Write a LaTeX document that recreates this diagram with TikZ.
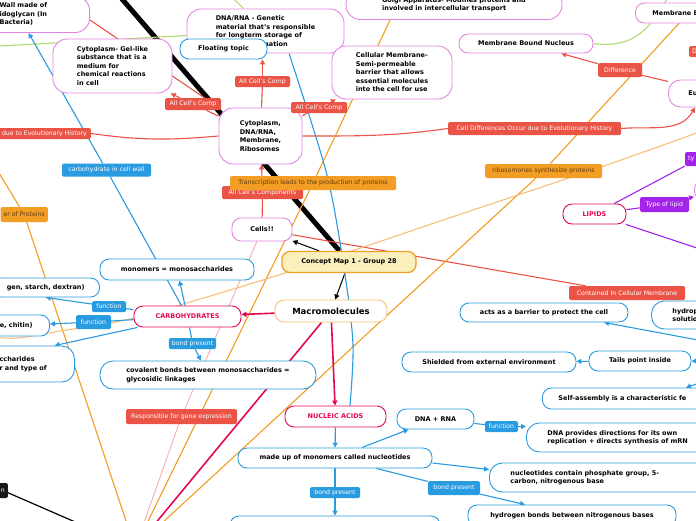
\documentclass[tikz,border=0pt]{standalone}
\usepackage{fontspec}
\setmainfont{DejaVu Sans}
\usepackage{tikz}
\usetikzlibrary{arrows.meta, positioning, backgrounds}
\definecolor{mmpink}{RGB}{226,132,226}
\definecolor{mmblue}{RGB}{40,155,225}
\definecolor{mmred}{RGB}{234,84,70}
\definecolor{mmorange}{RGB}{242,157,36}
\definecolor{mmlorange}{RGB}{251,190,120}
\definecolor{mmcrimson}{RGB}{226,8,84}
\definecolor{mmpurple}{RGB}{163,36,232}
\definecolor{mmgreen}{RGB}{175,222,110}
\definecolor{mmyellow}{RGB}{250,240,190}
\definecolor{mmlpink}{RGB}{246,176,176}
\definecolor{mmbrown}{RGB}{95,60,15}

\begin{document}
\begin{tikzpicture}[x=1pt, y=-1pt,
    topic/.style={draw, fill=white, line width=0.9pt, rounded corners=9pt, inner sep=0pt,
        align=center, font=\bfseries\fontsize{6.5}{8.5}\selectfont},
    pinktopic/.style={topic, draw=mmpink},
    bluetopic/.style={topic, draw=mmblue},
    maintopic/.style={topic, draw=mmcrimson, text=mmcrimson},
    multi/.style={align=left, rounded corners=14pt},
    lbl/.style={rounded corners=1.5pt, inner xsep=3pt, inner ysep=0pt, minimum height=12pt,
        text=white, font=\fontsize{6.2}{7}\selectfont},
    redlbl/.style={lbl, fill=mmred},
    bluelbl/.style={lbl, fill=mmblue},
    orangelbl/.style={lbl, fill=mmorange, text=mmbrown},
    purplelbl/.style={lbl, fill=mmpurple},
    blacklbl/.style={lbl, fill=black!90},
    arr/.style={-{Triangle[length=5pt, width=5pt]}},
    redln/.style={draw=mmred, line width=1.1pt},
    blueln/.style={draw=mmblue, line width=1.1pt},
    orangeln/.style={draw=mmorange, line width=1.1pt},
    lorangeln/.style={draw=mmlorange, line width=1.1pt},
    crimsonln/.style={draw=mmcrimson, line width=1.6pt},
    purpleln/.style={draw=mmpurple, line width=1.1pt},
    greenln/.style={draw=mmgreen, line width=1.1pt},
    lpinkln/.style={draw=mmlpink, line width=0.9pt}]
    \useasboundingbox (0,0) rectangle (696,520);

    % cell components
    \node[pinktopic, multi, anchor=north east, text width=70pt, inner xsep=20pt,
        minimum height=36pt] (wall) at (90,-4) {Wall made of\\idoglycan (In\\Bacteria)};
    \node[pinktopic, multi, minimum width=119pt, minimum height=54pt] (gel) at (112.5,66)
        {Cytoplasm- Gel-like\\substance that is a\\medium for\\chemical reactions\\in cell};
    \node[pinktopic, multi, minimum width=157pt, minimum height=44pt] (dnarna) at (265.5,31)
        {DNA/RNA - Genetic\\material that's responsible\\for longterm storage of\\\hspace*{29pt}information};
    \node[bluetopic, minimum width=87pt, minimum height=20pt] (ftopic) at (223.5,49) {Floating topic};
    \node[pinktopic, multi, minimum width=216pt, minimum height=30pt] (golgi) at (454,4.5)
        {Golgi Apparatus- Modifies proteins and\\involved in intercellular transport};
    \node[pinktopic, multi, minimum width=120pt, minimum height=53pt] (cellmem) at (392,72.5)
        {Cellular Membrane-\\Semi-permeable\\barrier that allows\\essential molecules\\into the cell for use};
    \node[pinktopic, multi, minimum width=83pt, minimum height=56pt] (cytodna) at (260.5,136)
        {Cytoplasm,\\DNA/RNA,\\Membrane,\\Ribosomes};
    \node[pinktopic, minimum width=134pt, minimum height=19pt] (mbn) at (526,43.5) {Membrane Bound Nucleus};
    \node[pinktopic, anchor=west, text width=80pt, align=left, inner xsep=17pt, minimum height=20pt] (memb) at (635,13) {Membrane B};
    \node[pinktopic, multi, anchor=west, text width=60pt, inner xsep=20pt, minimum height=27pt,
        rounded corners=12pt] (eu) at (668,93.5) {Eu};

    % labels round the cell
    \node[redlbl, anchor=west, text width=16pt, align=left, minimum height=11pt] (dlbl) at (689,51.5) {D};
    \node[redlbl, minimum width=44pt, minimum height=14pt] (difflbl) at (620,70) {Difference};
    \node[redlbl, minimum width=173pt, minimum height=13pt] (celldiff) at (534.5,128.5)
        {Cell Differences Occur due to Evolutionary History};
    \node[redlbl, anchor=east, minimum height=11pt, inner xsep=4pt] (evoleft) at (91,133.5) {due to Evolutionary History};
    \node[redlbl, minimum width=56pt, minimum height=12pt] (cmpa) at (193,104) {All Cell's Comp};
    \node[redlbl, minimum width=55pt, minimum height=11pt] (cmpb) at (262.5,81.5) {All Cell's Comp};
    \node[redlbl, minimum width=56pt, minimum height=11pt] (cmpc) at (319,107.5) {All Cell's Comp};
    \node[redlbl, minimum width=81pt, minimum height=13pt] (cellcomp) at (262.5,192.5) {All Cell's Components};
    \node[orangelbl, minimum width=166pt, minimum height=14pt] (translbl) at (313,183)
        {Transcription leads to the production of proteins};
    \node[bluelbl, minimum width=89pt, minimum height=13pt] (carbolbl) at (106.5,170) {carbohydrate in cell wall};
    \node[orangelbl, anchor=east, minimum height=15pt] (protlbl) at (48,214.5) {er of Proteins};
    \node[orangelbl, minimum width=117pt, minimum height=14pt] (ribolbl) at (543.5,171) {ribosomones synthesize proteins};

    % centre
    \node[pinktopic, minimum width=60pt, minimum height=23pt] (cells) at (262,229.5) {Cells!!};
    \node[topic, fill=mmyellow, draw=mmorange, line width=1.3pt, rounded corners=8pt,
        minimum width=134pt, minimum height=21pt] (ctr) at (349,262) {Concept Map 1 - Group 28};
    \node[topic, draw=mmlorange, minimum width=112pt, minimum height=22pt,
        font=\bfseries\fontsize{8.5}{10}\selectfont] (macro) at (331,311) {Macromolecules};

    % lipids
    \node[maintopic, minimum width=63pt, minimum height=20pt] (lipids) at (594.5,214) {LIPIDS};
    \node[purplelbl, minimum width=49pt, minimum height=15pt] (typelbl) at (664.5,204.5) {Type of lipid};
    \node[purplelbl, anchor=west, text width=20pt, align=left, minimum height=14pt] (tylbl) at (685,159) {ty};
    \node[pinktopic, anchor=west, minimum width=50pt, minimum height=20pt] (pinkr) at (694,190) {};
    \node[redlbl, minimum width=116pt, minimum height=14pt] (contlbl) at (627,293) {Contained In Cellular Membrane};
    \node[bluetopic, minimum width=168pt, minimum height=19pt] (acts) at (544,312.5) {acts as a barrier to protect the cell};
    \node[bluetopic, multi, anchor=west, text width=60pt, inner xsep=21pt, minimum height=28pt,
        rounded corners=13pt] (hydrop) at (651,315) {hydrop\\solutio};
    \node[bluetopic, minimum width=174pt, minimum height=20pt] (shield) at (489,362) {Shielded from external environment};
    \node[bluetopic, minimum width=102pt, minimum height=20pt] (tails) at (640,361) {Tails point inside};
    \node[bluetopic, anchor=west, text width=200pt, align=left, inner xsep=16pt, minimum height=21pt] (selfas) at (542,398.5)
        {Self-assembly is a characteristic fe};

    % nucleic acids
    \node[maintopic, minimum width=101pt, minimum height=21pt] (nucleic) at (335.5,416.5) {NUCLEIC ACIDS};
    \node[bluetopic, minimum width=77pt, minimum height=20pt] (dnarnab) at (435.5,419) {DNA + RNA};
    \node[bluelbl, minimum width=33pt, minimum height=11pt] (fnc) at (501.5,426.5) {function};
    \node[bluetopic, multi, anchor=west, text width=200pt, inner xsep=21pt, minimum height=29pt,
        rounded corners=13pt] (dnaprov) at (526,437.5) {DNA provides directions for its own\\replication + directs synthesis of mRN};
    \node[bluetopic, minimum width=194pt, minimum height=20pt] (madeup) at (335,458) {made up of monomers called nucleotides};
    \node[bluelbl, minimum width=50pt, minimum height=11pt] (bonda) at (335,492.5) {bond present};
    \node[bluelbl, minimum width=52pt, minimum height=14pt] (bondb) at (454,488) {bond present};
    \node[bluetopic, multi, anchor=west, text width=200pt, inner xsep=21pt, minimum height=29pt,
        rounded corners=13pt] (nuccont) at (489,477.5) {nucleotides contain phosphate group, 5-\\carbon, nitrogenous base};
    \node[bluetopic, minimum width=208pt, minimum height=21pt] (hbond) at (572,515.5) {hydrogen bonds between nitrogenous bases};
    \node[bluetopic, minimum width=210pt, minimum height=22pt] (bottomn) at (335,527) {};

    % carbohydrates
    \node[maintopic, minimum width=107pt, minimum height=21pt] (carbo) at (187.5,316.5) {CARBOHYDRATES};
    \node[bluetopic, minimum width=154pt, minimum height=21pt] (mono) at (177,269.5) {monomers = monosaccharides};
    \node[bluetopic, anchor=east, inner xsep=15pt, minimum height=19pt] (starch) at (100,287.5) {gen, starch, dextran)};
    \node[bluetopic, anchor=east, inner xsep=17pt, minimum height=21pt] (chitin) at (50,325.5) {e, chitin)};
    \node[bluetopic, multi, anchor=east, text width=50pt, inner xsep=25pt, minimum height=36pt,
        rounded corners=13pt] (sacch) at (75,364) {ccharides\\r and type of};
    \node[bluelbl, minimum width=34pt, minimum height=11pt] (fna) at (109,306.5) {function};
    \node[bluelbl, minimum width=35pt, minimum height=14pt] (fnb) at (93.5,322) {function};
    \node[bluelbl, minimum width=41pt, minimum height=11pt] (bondc) at (192.5,343.5) {bond present};
    \node[bluetopic, multi, minimum width=216pt, minimum height=28pt, rounded corners=13pt] (covalent) at (208,375)
        {covalent bonds between monosaccharides =\\glycosidic linkages};
    \node[redlbl, minimum width=111pt, minimum height=15pt] (genelbl) at (181.5,416.5) {Responsible for gene expression};
    \node[blacklbl, anchor=east, minimum height=15pt] (nlbl) at (8,490.5) {n};

    % free ends
    \coordinate (protein) at (135,548);
    \coordinate (topmain) at (97,-30);
    \coordinate (wallend) at (90,20);
    \coordinate (greenleft) at (-10,46.6);
    \coordinate (greentop) at (225,-10);
    \coordinate (greenright) at (672,-10);
    \coordinate (golgiend) at (391,18);
    \coordinate (ribotop) at (705,-5);
    \coordinate (orangeleft) at (-30,125);
    \coordinate (lipidsr) at (730,259);
    \coordinate (righta) at (720,361);
    \coordinate (rightb) at (720,376);
    \coordinate (rightc) at (730,346);

    \begin{scope}[on background layer]
        \fill[white] (0,0) rectangle (696,520);
        \draw[line width=5pt] (ctr) -- (topmain);
        \draw[arr, line width=1pt] (ctr) -- (cells);
        \draw[arr, line width=1pt] (ctr) -- (macro);
        % red links
        \draw[redln] (cells) -- (cellcomp);
        \draw[redln, arr] (cellcomp) -- (cytodna);
        \draw[redln] (cytodna) -- (cmpb);
        \draw[redln, arr] (cmpb) -- (cmpb |- ftopic.south);
        \draw[redln] (cytodna) -- (cmpa);
        \draw[redln, arr] (cmpa) -- (gel);
        \draw[redln] (cytodna) -- (wallend);
        \draw[redln] (cytodna) -- (cmpc);
        \draw[redln, arr] (cmpc) -- (cellmem);
        \draw[redln] (cytodna.east) to[out=0, in=188] (celldiff.west);
        \draw[redln, arr] (celldiff.east) to[out=5, in=-120] ([xshift=27pt]eu.south west);
        \draw[redln] (cytodna.west) to[out=185, in=-8] (evoleft.east);
        \draw[redln] (eu) -- (difflbl);
        \draw[redln, arr] (difflbl) -- (mbn);
        \draw[redln] (cells) -- (contlbl);
        % green links
        \draw[greenln] (mbn.east) .. controls (640,50) and (655,20) .. (greenright);
        \draw[greenln] (dnarna) -- (greenleft);
        \draw[greenln] (dnarna) -- (greentop);
        % proteins
        \draw[orangeln] (golgiend) -- (translbl) -- (protein);
        \draw[orangeln] (ribotop) -- (ribolbl) -- (protein);
        \draw[orangeln] (orangeleft) -- (protlbl) -- (protein);
        \draw[lorangeln] plot[smooth] coordinates {(705,130) (601,167) (464,213) (282,274) (133,318) (60,331) (18,338) (-10,337)};
        \draw[lpinkln] (cells) -- (genelbl) -- (protein);
        \draw[crimsonln] (macro) -- (protein);
        \draw[crimsonln, arr] (macro) -- (carbo);
        \draw[crimsonln, arr] (macro) -- (nucleic);
        \draw[line width=1.2pt] (nlbl) -- (protein);
        % blue links
        \draw[blueln] plot[smooth] coordinates {([xshift=23.5pt]dnarna.south) (327,175) (345,275) (353,345) ([xshift=14.5pt]nucleic.north)};
        \draw[blueln] (carbo) -- (carbolbl);
        \draw[blueln, arr] (carbolbl) -- ([xshift=-6pt]wall.south);
        \draw[blueln, arr] (carbo) -- (mono);
        \draw[blueln] (carbo) -- (fna);
        \draw[blueln, arr] (fna) -- (starch.south);
        \draw[blueln] (carbo) -- (fnb);
        \draw[blueln, arr] (fnb) -- (chitin);
        \draw[blueln, arr] (carbo) -- ([xshift=30pt]sacch.north);
        \draw[blueln] (carbo) -- (bondc);
        \draw[blueln, arr] (bondc) -- (covalent);
        \draw[blueln, arr] (nucleic) -- (madeup);
        \draw[blueln, arr] (madeup) -- (dnarnab);
        \draw[blueln] (dnarnab) -- (fnc);
        \draw[blueln, arr] (fnc) -- (fnc -| dnaprov.west);
        \draw[blueln, arr] ([yshift=-5pt]madeup.east) -- ([yshift=8pt]nuccont.west);
        \draw[blueln] (madeup) -- (bondb);
        \draw[blueln, arr] (bondb) -- (hbond);
        \draw[blueln] (madeup) -- (bonda);
        \draw[blueln, arr] (bonda) -- (bottomn);
        \draw[blueln, arr] (tails) -- (shield);
        \draw[blueln, arr] (righta) -- (tails);
        \draw[blueln, arr] (rightb) -- ([xshift=144pt]selfas.north west);
        \draw[blueln, arr] (rightc) -- ([xshift=60pt]acts.south);
        % purple links
        \draw[purpleln] (lipids) -- (tylbl);
        \draw[purpleln] (lipids) -- (typelbl);
        \draw[purpleln, arr] (typelbl) -- (pinkr);
        \draw[purpleln] (lipids) -- (lipidsr);
    \end{scope}
\end{tikzpicture}
\end{document}
